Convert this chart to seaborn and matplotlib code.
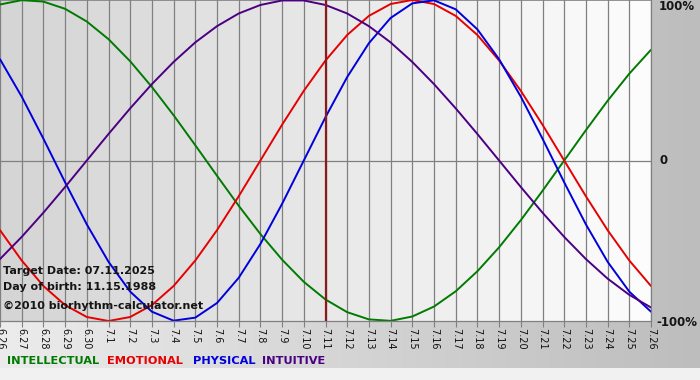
import numpy as np
import pandas as pd
import matplotlib
matplotlib.use("Agg")
import matplotlib.pyplot as plt
import seaborn as sns
from matplotlib.colors import LinearSegmentedColormap

sns.set_theme(style="white")
plt.rcParams['font.family'] = ['DejaVu Sans']

# Datos (un valor por dia, 6.26 -> 7.26)
dates = ["6.26", "6.27", "6.28", "6.29", "6.30",
         "7.1", "7.2", "7.3", "7.4", "7.5", "7.6", "7.7", "7.8", "7.9", "7.10",
         "7.11", "7.12", "7.13", "7.14", "7.15", "7.16", "7.17", "7.18", "7.19",
         "7.20", "7.21", "7.22", "7.23", "7.24", "7.25", "7.26"]
target_day = "7.11"

intellectual = [0.972, 0.999, 0.990, 0.945, 0.866, 0.756, 0.618, 0.458, 0.282, 0.095,
                -0.095, -0.282, -0.458, -0.618, -0.756, -0.866, -0.945, -0.990, -0.999, -0.972,
                -0.910, -0.815, -0.690, -0.541, -0.372, -0.189, 0.0, 0.189, 0.372, 0.541, 0.690]
emotional = [-0.434, -0.623, -0.782, -0.901, -0.975, -1.0, -0.975, -0.901, -0.782, -0.623,
             -0.434, -0.223, 0.0, 0.223, 0.434, 0.623, 0.782, 0.901, 0.975, 1.0,
             0.975, 0.901, 0.782, 0.623, 0.434, 0.223, 0.0, -0.223, -0.434, -0.623, -0.782]
physical = [0.631, 0.398, 0.136, -0.136, -0.398, -0.631, -0.817, -0.942, -0.998, -0.979,
            -0.888, -0.731, -0.520, -0.270, 0.0, 0.270, 0.520, 0.731, 0.888, 0.979,
            0.998, 0.942, 0.817, 0.631, 0.398, 0.136, -0.136, -0.398, -0.631, -0.817, -0.942]
intuitive = [-0.614, -0.476, -0.325, -0.165, 0.0, 0.165, 0.325, 0.476, 0.614, 0.736,
             0.837, 0.916, 0.969, 0.997, 0.997, 0.969, 0.916, 0.837, 0.736, 0.614,
             0.476, 0.325, 0.165, 0.0, -0.165, -0.325, -0.476, -0.614, -0.736, -0.837, -0.916]

series_names = ["INTELLECTUAL", "EMOTIONAL", "PHYSICAL", "INTUITIVE"]
colors = {"INTELLECTUAL": "#007a00", "EMOTIONAL": "#e60000",
          "PHYSICAL": "#0000dd", "INTUITIVE": "#4b0082"}

df = pd.DataFrame({
    "day": list(range(len(dates))) * 4,
    "value": intellectual + emotional + physical + intuitive,
    "series": sum([[s] * len(dates) for s in series_names], []),
})

fig = plt.figure(figsize=(7, 3.8), dpi=100)

# fondo general con degradado
bg = fig.add_axes([0, 0, 1, 1], zorder=0)
bg_cmap = LinearSegmentedColormap.from_list("bg", ["#ececec", "#bdbdbd"])
bg.imshow(np.linspace(0, 1, 256)[None, :], cmap=bg_cmap, aspect="auto",
          extent=[0, 700, 368, 0])
bg.set_xlim(0, 700)
bg.set_ylim(380, 0)
bg.set_facecolor("#f0f0f0")
bg.axis("off")
bg.add_patch(plt.Rectangle((0, 368), 700, 12, color="#f1f1f1", lw=0))

# area del grafico
ax = fig.add_axes([0, 59 / 380, 651 / 700, 321 / 380], zorder=1)
n = len(dates)
strip_cmap = LinearSegmentedColormap.from_list("strip", ["#d5d5d5", "#fcfcfc"])
ax.imshow(np.arange(n - 1)[None, :], cmap=strip_cmap, aspect="auto",
          extent=[0, n - 1, -1, 1], interpolation="nearest", zorder=0)

for d in range(n):
    ax.axvline(d, color="#808080", lw=0.9, zorder=1)
ax.axhline(0, color="#808080", lw=0.9, zorder=1)
ax.axhline(1, color="#808080", lw=1.2, zorder=1)

ax.axvline(dates.index(target_day), color="#8b1a1a", lw=1.6, zorder=3)

sns.lineplot(data=df, x="day", y="value", hue="series", hue_order=series_names,
             palette=colors, linewidth=1.4, legend=False, ax=ax, zorder=2)

ax.set_xlim(0, n - 1)
ax.set_ylim(-1, 1)
ax.set_xticks(range(n))
ax.set_xticklabels(dates, rotation=-90)
ax.set_yticks([])
ax.set_xlabel("")
ax.set_ylabel("")
ax.tick_params(axis="x", direction="out", length=4, width=0.8, color="#808080",
               labelsize=7, pad=1, labelcolor="#111111")
ax.tick_params(axis="x", bottom=True)
for side in ["left", "top"]:
    ax.spines[side].set_visible(False)
for side in ["bottom", "right"]:
    ax.spines[side].set_color("#808080")
    ax.spines[side].set_linewidth(0.9)

# textos
txt = dict(fontsize=8, fontweight="bold", color="#151515", va="center")
fig.text(3 / 700, 1 - 271 / 380, "Target Date: 07.11.2025", **txt)
fig.text(3 / 700, 1 - 287 / 380, "Day of birth: 11.15.1988", **txt)
fig.text(3 / 700, 1 - 306 / 380, "\u00a92010 biorhythm-calculator.net", **txt)

side_txt = dict(txt, fontsize=8.5)
fig.text(659 / 700, 1 - 7 / 380, "100%", **side_txt)
fig.text(659 / 700, 1 - 161 / 380, "0", **side_txt)
fig.text(656 / 700, 1 - 322 / 380, "-100%", **side_txt)

leg_x = [7, 107, 193, 262]
for name, x in zip(series_names, leg_x):
    fig.text(x / 700, 1 - 361 / 380, name, fontsize=8.2, fontweight="bold",
             color=colors[name], va="center")

fig.savefig("out.png", dpi=100)
